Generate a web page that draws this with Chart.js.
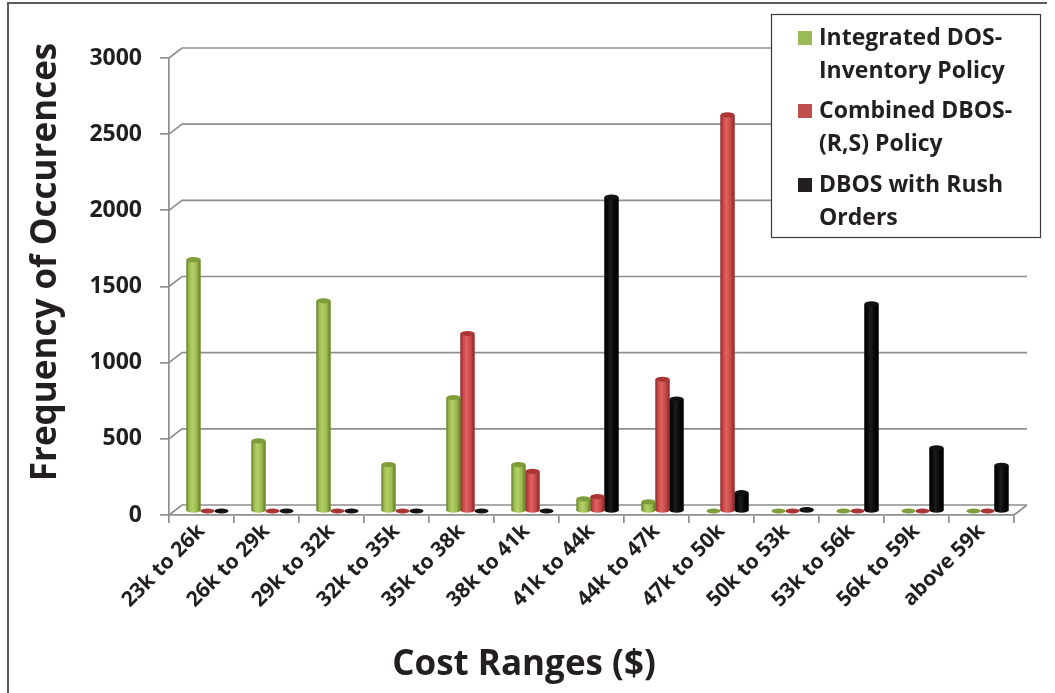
<!DOCTYPE html>
<html>
<head>
<meta charset="utf-8">
<script src="https://cdn.jsdelivr.net/npm/chart.js@4/dist/chart.umd.min.js"></script>
<style>
  html, body { margin: 0; padding: 0; background: #ffffff; }
  #wrap { width: 1055px; height: 693px; position: relative; }
</style>
</head>
<body>
<div id="wrap"><canvas id="chart" width="1055" height="693"></canvas></div>
<script>
// Cost ranges on the horizontal axis
const categories = [
  '23k to 26k', '26k to 29k', '29k to 32k', '32k to 35k', '35k to 38k',
  '38k to 41k', '41k to 44k', '44k to 47k', '47k to 50k', '50k to 53k',
  '53k to 56k', '56k to 59k', 'above 59k'
];

// Frequency of occurrences per policy
const integratedDos = [1650, 460, 1380, 305, 745, 305, 80, 60, 0, 0, 0, 0, 0];
const combinedDbos  = [0, 0, 0, 0, 1165, 260, 95, 865, 2600, 0, 0, 0, 0];
const rushOrders    = [0, 0, 0, 0, 0, 0, 2060, 735, 120, 10, 1360, 415, 300];

// Legend labels (two lines each)
const seriesLabels = [
  ['Integrated DOS-', 'Inventory Policy'],
  ['Combined DBOS-', '(R,S) Policy'],
  ['DBOS with Rush', 'Orders']
];

// Value axis
const yMin = 0, yMax = 3000, yStep = 500;

const axisTitleY = 'Frequency of Occurences';
const axisTitleX = 'Cost Ranges ($)';

// Cylinder shading per series
const shades = [
  { mid: '#9cbb4e', light: '#b3cf67', dark: '#5f7a28', cap: '#7f9d3a', swatch: '#9bbb59' },
  { mid: '#c94747', light: '#dc6360', dark: '#862a29', cap: '#a93534', swatch: '#c0504d' },
  { mid: '#070707', light: '#1c1c1c', dark: '#000000', cap: '#121212', swatch: '#231f20' }
];

const FONT = '"Open Sans", Lato, "DejaVu Sans", sans-serif';
const INK = '#231f20';
const GRID = '#8f8f8f';
// 3D depth of the walls and the position of the bars inside that depth
const WALL_DX = 13, WALL_DY = -10;
const BAR_DX = 6, BAR_DY = -4;

const walls = {
  id: 'walls',
  beforeDatasetsDraw(chart) {
    const { ctx, chartArea: a, scales: { y } } = chart;
    ctx.save();
    ctx.strokeStyle = GRID;
    ctx.lineWidth = 1.7;
    for (let v = yMin; v <= yMax; v += yStep) {
      const fy = y.getPixelForValue(v);
      ctx.beginPath();
      ctx.moveTo(a.left, fy);
      ctx.lineTo(a.left + WALL_DX, fy + WALL_DY);
      ctx.lineTo(a.right + WALL_DX, fy + WALL_DY);
      ctx.stroke();
    }
    // right edge of the floor slab
    const fy0 = y.getPixelForValue(0);
    ctx.beginPath();
    ctx.moveTo(a.right, fy0);
    ctx.lineTo(a.right + WALL_DX, fy0 + WALL_DY);
    ctx.stroke();
    ctx.restore();
    // bars sit a little behind the front edge
    ctx.save();
    ctx.translate(BAR_DX, BAR_DY);
  },
  afterDatasetsDraw(chart) {
    const { ctx } = chart;
    const order = [2, 1, 0];
    order.forEach(di => {
      const meta = chart.getDatasetMeta(di);
      const s = shades[di];
      meta.data.forEach(el => {
        const { x, y, base, width } = el.getProps(['x', 'y', 'base', 'width'], true);
        const l = x - width / 2, r = x + width / 2;
        const ry = 2.6;
        const g = ctx.createLinearGradient(l, 0, r, 0);
        g.addColorStop(0, s.dark);
        g.addColorStop(0.18, s.mid);
        g.addColorStop(0.42, s.light);
        g.addColorStop(0.72, s.mid);
        g.addColorStop(1, s.dark);
        if (base - y > 0.5) {
          ctx.fillStyle = g;
          ctx.beginPath();
          ctx.ellipse(x, base, width / 2, ry, 0, 0, Math.PI * 2);
          ctx.fill();
          ctx.fillRect(l, y, width, base - y);
        }
        ctx.fillStyle = s.cap;
        ctx.beginPath();
        ctx.ellipse(x, y, width / 2, ry, 0, 0, Math.PI * 2);
        ctx.fill();
      });
    });
    ctx.restore();
  },
  afterDraw(chart) {
    const { ctx } = chart;
    ctx.save();
    // outer frame
    ctx.strokeStyle = '#5a5a5a';
    ctx.lineWidth = 2;
    ctx.beginPath();
    ctx.moveTo(8, 693);
    ctx.lineTo(8, 3);
    ctx.lineTo(1047, 3);
    ctx.stroke();

    // axis titles
    ctx.fillStyle = INK;
    ctx.textAlign = 'center';
    ctx.textBaseline = 'middle';
    ctx.font = 'bold 35px ' + FONT;
    ctx.save();
    ctx.translate(46, 262);
    ctx.rotate(-Math.PI / 2);
    ctx.fillText(axisTitleY, 0, 0);
    ctx.restore();
    ctx.fillText(axisTitleX, 524, 665);

    // legend
    const bx = 771, by = 14, bw = 269, bh = 223;
    ctx.fillStyle = '#ffffff';
    ctx.fillRect(bx, by, bw, bh);
    ctx.strokeStyle = '#3a3a3a';
    ctx.lineWidth = 1.2;
    ctx.strokeRect(bx + 0.5, by + 0.5, bw, bh);
    ctx.font = 'bold 23px ' + FONT;
    ctx.textAlign = 'left';
    const firstLine = [38, 111, 185];
    seriesLabels.forEach((lines, i) => {
      ctx.fillStyle = shades[i].swatch;
      ctx.fillRect(798, firstLine[i] - 7, 14, 14);
      ctx.fillStyle = INK;
      lines.forEach((t, k) => ctx.fillText(t, 819, firstLine[i] + k * 33));
    });
    ctx.restore();
  }
};

const mk = (i, data) => ({
  label: seriesLabels[i].join(' '),
  data,
  backgroundColor: shades[i].mid,
  borderWidth: 0,
  categoryPercentage: 0.646,
  barPercentage: 1.0
});

new Chart(document.getElementById('chart'), {
  type: 'bar',
  data: {
    labels: categories,
    datasets: [mk(0, integratedDos), mk(1, combinedDbos), mk(2, rushOrders)]
  },
  options: {
    responsive: false,
    animation: false,
    devicePixelRatio: 1,
    layout: { padding: { left: 0, right: 41, top: 58, bottom: 0 } },
    plugins: { legend: { display: false }, tooltip: { enabled: false } },
    scales: {
      x: {
        afterFit: s => { s.height = 178; },
        grid: { drawOnChartArea: false, drawTicks: true, tickLength: 8, color: GRID, lineWidth: 1.7, offset: true },
        border: { display: true, color: GRID, width: 1.7 },
        ticks: {
          minRotation: 45, maxRotation: 45, autoSkip: false, padding: -4,
          color: INK, font: { family: FONT, size: 21, weight: 'bold' }
        }
      },
      y: {
        min: yMin, max: yMax,
        afterFit: s => { s.width = 169; },
        grid: { drawOnChartArea: false, drawTicks: true, tickLength: 9, color: GRID, lineWidth: 1.7 },
        border: { display: true, color: GRID, width: 1.7 },
        ticks: {
          stepSize: yStep, padding: 18,
          callback: v => String(v),
          color: INK, font: { family: FONT, size: 23, weight: 'bold' }
        }
      }
    }
  },
  plugins: [walls]
});
</script>
</body>
</html>
